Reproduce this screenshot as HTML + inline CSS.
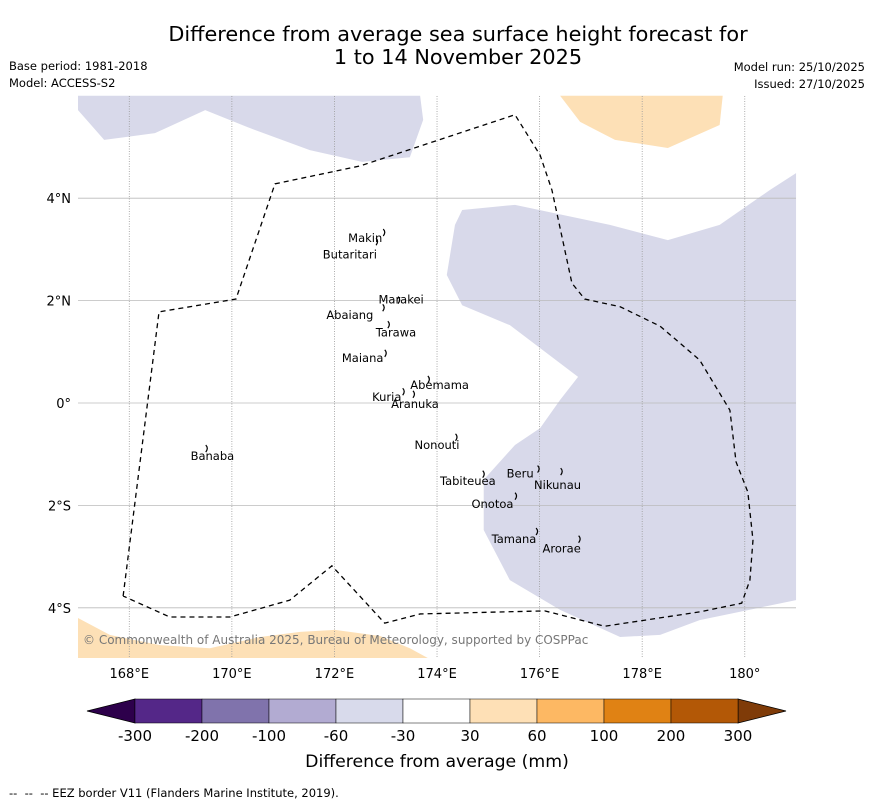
<!DOCTYPE html>
<html><head><meta charset="utf-8">
<style>
html,body{margin:0;padding:0;background:#fff;}
body{width:873px;height:804px;overflow:hidden;font-family:"Liberation Sans","DejaVu Sans",sans-serif;}
svg text{font-family:"DejaVu Sans","Liberation Sans",sans-serif;}
</style></head>
<body>
<svg id="chart" width="873" height="804" xmlns="http://www.w3.org/2000/svg">
<text x="458" y="41" font-size="20.8" text-anchor="middle" fill="#000">Difference from average sea surface height forecast for</text>
<text x="458" y="64" font-size="20.8" text-anchor="middle" fill="#000">1 to 14 November 2025</text>
<text x="9" y="70" font-size="11.5">Base period: 1981-2018</text>
<text x="9" y="87" font-size="11.5">Model: ACCESS-S2</text>
<text x="865" y="71" font-size="11.5" text-anchor="end">Model run: 25/10/2025</text>
<text x="865" y="88" font-size="11.5" text-anchor="end">Issued: 27/10/2025</text>
<g id="map"></g>
<g id="cbar"></g>
<text x="437" y="767" font-size="17.3" text-anchor="middle">Difference from average (mm)</text>
<text x="9" y="797" font-size="11.5" xml:space="preserve">--  --  -- EEZ border V11 (Flanders Marine Institute, 2019).</text>
</svg>
<script>
// ---- data ----
const lonTicks=[168,170,172,174,176,178,180];
const lonTickLabels=["168°E","170°E","172°E","174°E","176°E","178°E","180°"];
const latTicks=[4,2,0,-2,-4];
const latTickLabels=["4°N","2°N","0°","2°S","4°S"];
const purpleTopLon=[167,167,167.51,168.5,169.48,170.35,171.52,172.54,173.47,173.73,173.67];
const purpleTopLat=[6,5.72,5.14,5.27,5.72,5.37,4.94,4.71,4.8,5.53,6];
const purpleRightLon=[181,180.49,179.51,178.5,177.37,175.52,174.49,174.35,174.19,174.49,175.42,176.75,176.4,176.01,175.52,174.91,174.91,175.42,176.4,177.57,178.35,179.12,181];
const purpleRightLat=[4.49,4.16,3.48,3.18,3.48,3.87,3.77,3.48,2.5,1.91,1.52,0.51,0.06,-0.49,-0.82,-1.5,-2.48,-3.46,-4.04,-4.57,-4.53,-4.24,-3.85];
const orangeTopLon=[176.4,176.79,177.47,178.5,179.51,179.57];
const orangeTopLat=[6,5.49,5.14,4.98,5.43,6];
const orangeBotLon=[167,167.62,168.6,169.57,170.55,171.33,172.01,172.89,173.47,173.82,167];
const orangeBotLat=[-4.2,-4.53,-4.73,-4.79,-4.57,-4.47,-4.43,-4.55,-4.79,-4.98,-4.98];
const eezLon=[167.88,168.58,170.08,170.84,172.5,175.52,176.01,176.24,176.63,176.88,177.57,178.35,179.12,179.71,179.83,180.06,180.16,180.10,179.94,179.12,177.27,176.10,173.67,172.98,171.95,171.13,169.96,168.79,167.88];
const eezLat=[-3.77,1.78,2.03,4.28,4.63,5.63,4.84,4.16,2.34,2.03,1.88,1.50,0.84,-0.14,-1.15,-1.74,-2.68,-3.46,-3.91,-4.08,-4.36,-4.06,-4.12,-4.30,-3.18,-3.85,-4.18,-4.18,-3.77];
const islandNames=["Makin","Butaritari","Marakei","Abaiang","Tarawa","Maiana","Abemama","Kuria","Aranuka","Nonouti","Banaba","Tabiteuea","Beru","Nikunau","Onotoa","Tamana","Arorae"];
const islandLon=[172.99,172.85,173.28,172.98,173.08,173.02,173.86,173.37,173.57,174.4,169.53,174.93,176.0,176.45,175.56,175.97,176.8];
const islandLat=[3.32,3.14,2.0,1.85,1.52,0.96,0.45,0.21,0.16,-0.68,-0.9,-1.4,-1.3,-1.35,-1.83,-2.52,-2.67];
const labelLon=[172.6,172.3,173.3,172.3,173.2,172.55,174.05,173.02,173.57,174.0,169.62,174.6,175.62,176.35,175.08,175.5,176.43];
const labelLat=[3.22,2.9,2.02,1.72,1.38,0.88,0.35,0.12,-0.02,-0.82,-1.04,-1.52,-1.38,-1.6,-1.97,-2.66,-2.84];
const cbarBounds=["-300","-200","-100","-60","-30","30","60","100","200","300"];
const cbarColors=["#542788","#8073ac","#b2abd2","#d8daeb","#ffffff","#fee0b6","#fdb863","#e08214","#b35806"];
// ---- axes ----
const X=lon=>78+(lon-167)*51.29;
const Y=lat=>403-lat*51.2;
const NS="http://www.w3.org/2000/svg";
function mk(tag,attrs,parent){const e=document.createElementNS(NS,tag);for(const k in attrs)e.setAttribute(k,attrs[k]);parent.appendChild(e);return e;}
const map=document.getElementById('map');
function poly(lons,lats,fill,name){
  const p=mk('polygon',{points:lons.map((l,i)=>X(l)+','+Y(lats[i])).join(' '),fill:fill},map);
  
  
}
poly(purpleTopLon,purpleTopLat,'#d8d9ea','negative-anomaly-north');
poly(purpleRightLon,purpleRightLat,'#d8d9ea','negative-anomaly-east');
poly(orangeTopLon,orangeTopLat,'#fde0b6','positive-anomaly-north');
poly(orangeBotLon,orangeBotLat,'#fde0b6','positive-anomaly-south');
lonTicks.forEach((l,i)=>{
  const g=mk('line',{x1:X(l),x2:X(l),y1:96,y2:658,stroke:'#999','stroke-width':0.8,'stroke-dasharray':'1,1.5'},map);
  
  
  const t=mk('text',{x:X(l),y:678,'font-size':13,'text-anchor':'middle'},map);t.textContent=lonTickLabels[i];
  
  
});
latTicks.forEach((l,i)=>{
  const g=mk('line',{x1:78,x2:796,y1:Y(l),y2:Y(l),stroke:'#bbb','stroke-width':0.8},map);
  
  
  const t=mk('text',{x:71,y:Y(l)+5,'font-size':13,'text-anchor':'end'},map);t.textContent=latTickLabels[i];
  
  
});
const eez=mk('polyline',{points:eezLon.map((l,i)=>X(l)+','+Y(eezLat[i])).join(' '),fill:'none',stroke:'#000','stroke-width':1.3,'stroke-dasharray':'5,4'},map);


islandNames.forEach((n,i)=>{
  const x=X(islandLon[i]),y=Y(islandLat[i]);
  const s=mk('path',{d:`M${x-2},${y-4} q3,3 0,7`,fill:'none',stroke:'#000','stroke-width':1.2},map);
  
  
  const t=mk('text',{x:X(labelLon[i]),y:Y(labelLat[i])+4,'font-size':11.5,'text-anchor':'middle'},map);t.textContent=n;
  
  
});
const c=mk('text',{x:83,y:644,'font-size':12,fill:'#777'},map);c.textContent='© Commonwealth of Australia 2025, Bureau of Meteorology, supported by COSPPac';


// ---- colorbar ----
const cb=document.getElementById('cbar');
const cx0=135,cx1=738,cy0=699,cy1=723,segW=(cx1-cx0)/cbarColors.length;
const lt=mk('polygon',{points:`${cx0},${cy0} 87,${(cy0+cy1)/2} ${cx0},${cy1}`,fill:'#2d004b',stroke:'#000','stroke-width':0.8},cb);


const rt=mk('polygon',{points:`${cx1},${cy0} 786,${(cy0+cy1)/2} ${cx1},${cy1}`,fill:'#7f3b08',stroke:'#000','stroke-width':0.8},cb);


cbarColors.forEach((col,i)=>{
  const r=mk('rect',{x:cx0+i*segW,y:cy0,width:segW,height:cy1-cy0,fill:col,stroke:'#000','stroke-width':0.5},cb);
  
  
});
cbarBounds.forEach((b,i)=>{
  const t=mk('text',{x:cx0+i*segW,y:741,'font-size':15,'text-anchor':'middle'},cb);t.textContent=b;
  
  
});
</script>
</body></html>
